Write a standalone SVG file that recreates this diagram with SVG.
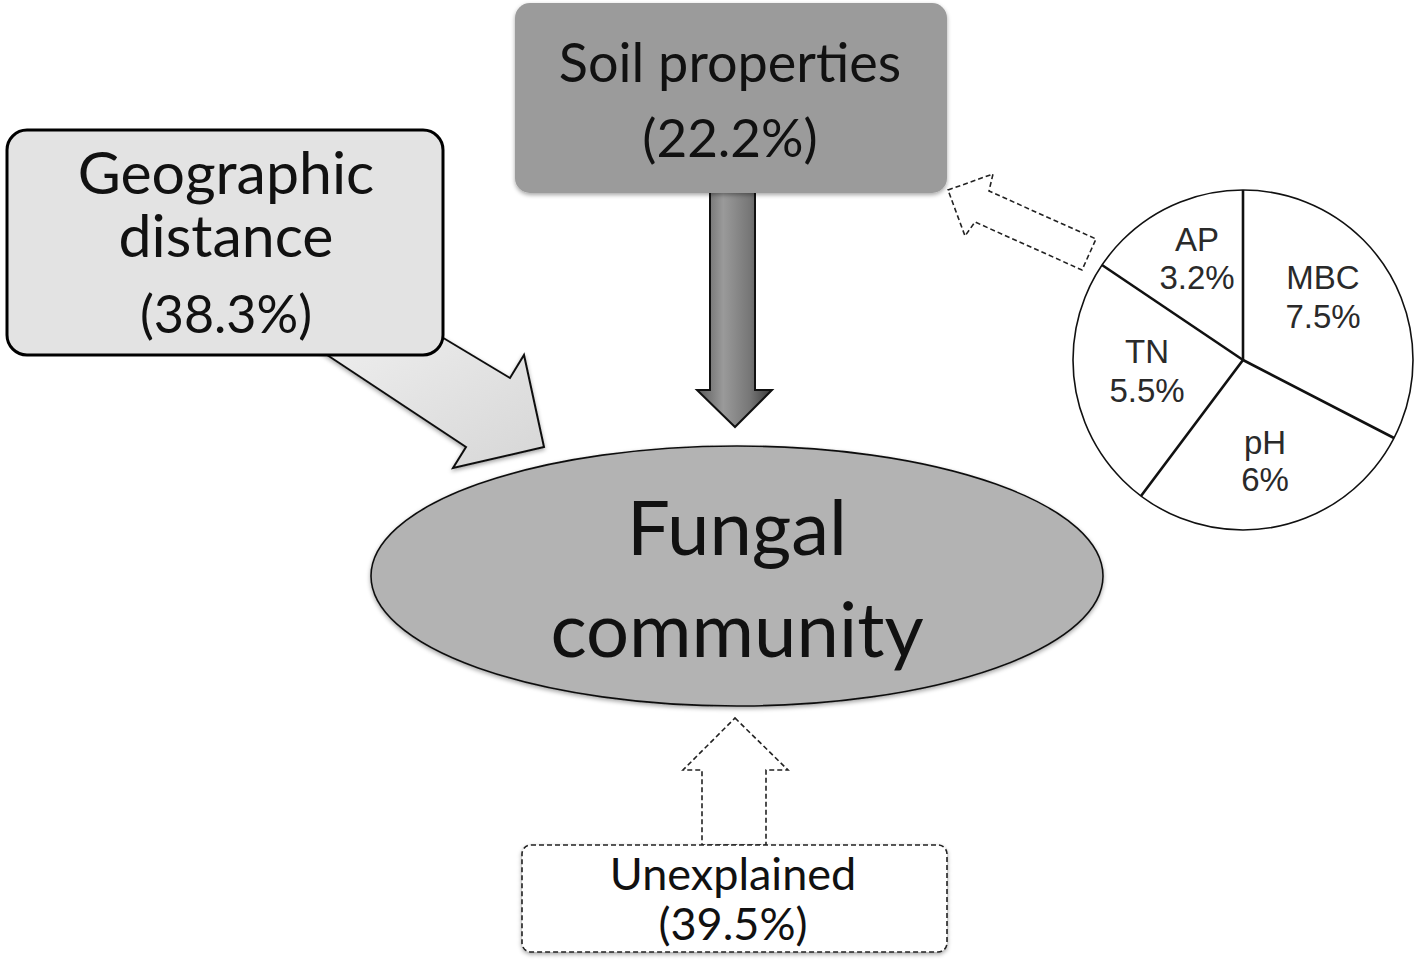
<svg xmlns="http://www.w3.org/2000/svg" width="1423" height="965" viewBox="0 0 1423 965">
<defs>
<linearGradient id="gGeo" x1="0" y1="0" x2="1" y2="1">
<stop offset="0" stop-color="#f2f2f2"/>
<stop offset="1" stop-color="#d6d6d6"/>
</linearGradient>
<linearGradient id="gSoil" x1="0" y1="0" x2="1" y2="0">
<stop offset="0" stop-color="#5a5a5a"/>
<stop offset="0.35" stop-color="#9a9a9a"/>
<stop offset="0.7" stop-color="#777"/>
<stop offset="1" stop-color="#3a3a3a"/>
</linearGradient>
<filter id="sh" x="-10%" y="-10%" width="120%" height="130%">
<feDropShadow dx="0" dy="2" stdDeviation="2" flood-color="#000" flood-opacity="0.35"/>
</filter>
</defs>
<style>
.lbl{font-family:Lato,"Open Sans","Liberation Sans",sans-serif;fill:#111;text-anchor:middle}
.pie{font-family:"Liberation Sans",Arial,sans-serif;fill:#2a2a2a;text-anchor:middle;font-size:33px}
.dash{fill:#fff;stroke:#222;stroke-width:1.6;stroke-dasharray:5 3}
</style>
<rect width="1423" height="965" fill="#fff"/>
<g id="connectors">
<polygon id="geo-arrow" points="400,312 510,378 524,355 544,447 453,468 466,447 300,337" fill="url(#gGeo)" stroke="#111" stroke-width="2" stroke-linejoin="miter" filter="url(#sh)"/>
<polygon id="soil-arrow" points="710,190 755,190 755,390 772,390 735,427 697,390 710,390" fill="url(#gSoil)" stroke="#111" stroke-width="2"/>
<polygon id="pie-arrow" class="dash" points="948,190 993,174 989,191 1096,239 1082,270 975,222 965,236"/>
<polygon id="unexp-arrow" class="dash" points="735,718 788,770 766,770 766,845 702,845 702,770 683,770"/>
</g>
<g id="geographic">
<rect x="7" y="130" width="436" height="225" rx="20" fill="#e3e3e3" stroke="#000" stroke-width="3"/>
<text class="lbl" x="226" y="194" font-size="59">Geographic</text>
<text class="lbl" x="226" y="257" font-size="59">distance</text>
<text class="lbl" x="226" y="333" font-size="52">(38.3%)</text>
</g>
<g id="soil">
<rect x="515" y="3" width="432" height="190" rx="15" fill="#9b9b9b" filter="url(#sh)"/>
<text class="lbl" x="730" y="82" font-size="54">Soil properties</text>
<text class="lbl" x="730" y="157" font-size="53">(22.2%)</text>
</g>
<g id="fungal">
<ellipse cx="737" cy="576" rx="366" ry="130" fill="#b3b3b3" stroke="#111" stroke-width="1.6" filter="url(#sh)"/>
<text class="lbl" x="737" y="555" font-size="76">Fungal</text>
<text class="lbl" x="737" y="657" font-size="76">community</text>
</g>
<g id="unexplained">
<rect x="522" y="845" width="425" height="107" rx="9" class="dash" filter="url(#sh)"/>
<text class="lbl" x="733" y="890" font-size="45">Unexplained</text>
<text class="lbl" x="733" y="940" font-size="45">(39.5%)</text>
</g>
<g id="pie">
<circle cx="1243" cy="360" r="170" fill="#fff" stroke="#111" stroke-width="1.6"/>
<g stroke="#111" stroke-width="2.6" fill="none">
<line x1="1243" y1="360" x2="1243" y2="190"/>
<line x1="1243" y1="360" x2="1102" y2="265"/>
<line x1="1243" y1="360" x2="1141" y2="496"/>
<line x1="1243" y1="360" x2="1394" y2="438"/>
</g>
<text class="pie" x="1197" y="251">AP</text>
<text class="pie" x="1197" y="289">3.2%</text>
<text class="pie" x="1323" y="289">MBC</text>
<text class="pie" x="1323" y="328">7.5%</text>
<text class="pie" x="1147" y="363">TN</text>
<text class="pie" x="1147" y="402">5.5%</text>
<text class="pie" x="1265" y="454">pH</text>
<text class="pie" x="1265" y="491">6%</text>
</g>
</svg>
